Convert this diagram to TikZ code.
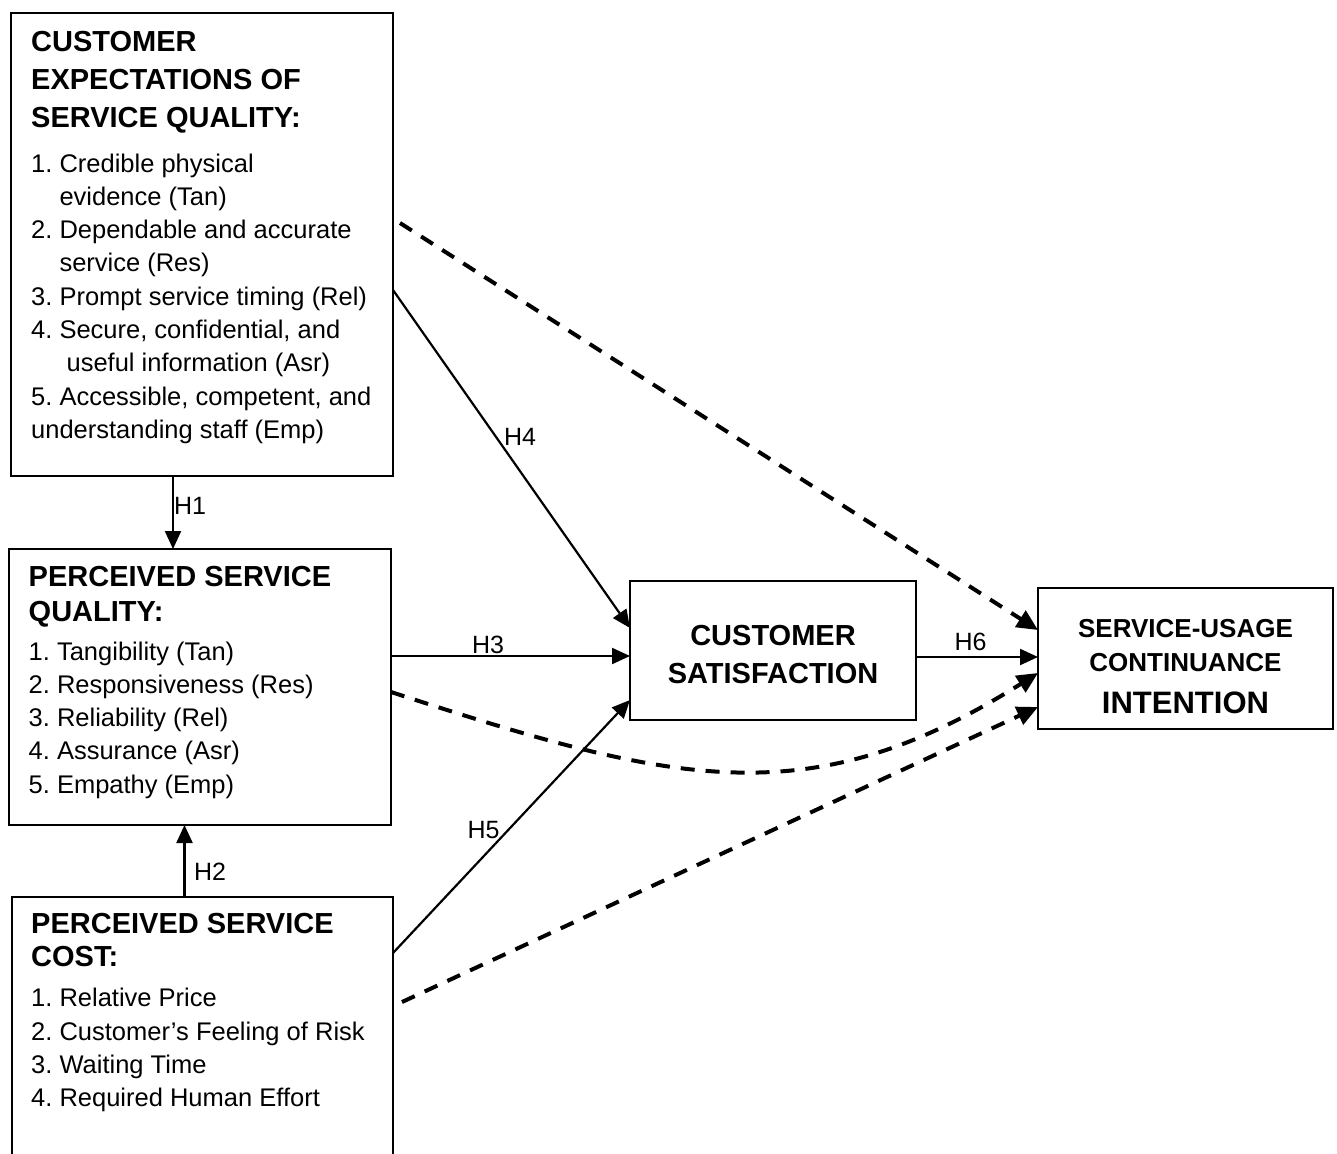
\documentclass[tikz,border=0pt]{standalone}
\usepackage{fontspec}
\setmainfont{Liberation Sans}
\usetikzlibrary{arrows.meta}
\frenchspacing

\tikzset{
  box/.style={draw, line width=2.2pt, outer sep=0pt, inner sep=0pt, anchor=north west},
  title/.style={font=\fontsize{29}{35}\selectfont\bfseries, inner sep=0pt, anchor=base west},
  item/.style={font=\fontsize{25.5}{33}\selectfont, inner sep=0pt, anchor=base west},
  hyp/.style={font=\fontsize{25}{30}\selectfont, inner sep=0pt},
  link/.style={line width=2.2pt, -{Triangle[length=18pt,width=16pt]}},
  dlink/.style={line width=4pt, dash pattern=on 14pt off 11pt, -{Triangle[length=21pt,width=19pt]}},
}

\begin{document}
\begin{tikzpicture}[x=1pt, y=-1pt]
\useasboundingbox (0,0) rectangle (1337,1153);
\fill[white] (0,0) rectangle (1337,1153);

% Boxes
\node[box, minimum width=382pt, minimum height=463pt] (expect) at (11,13) {};
\node[box, minimum width=382pt, minimum height=276pt] (quality) at (9,549) {};
\node[box, minimum width=381pt, minimum height=300pt] (cost) at (12,897) {};
\node[box, minimum width=286pt, minimum height=139pt] (satis) at (630,581) {};
\node[box, minimum width=295pt, minimum height=141pt] (intent) at (1038,588) {};

% Expectations box text
\foreach \txt [count=\i from 0] in {CUSTOMER, EXPECTATIONS OF, SERVICE QUALITY:}
  \node[title] (et\i) at (31, 52+38*\i) {\txt};
\foreach \txt [count=\i from 0] in {{1. Credible physical}, {\hspace*{28.3pt}evidence (Tan)},
    {2. Dependable and accurate}, {\hspace*{28.3pt}service (Res)}, {3. Prompt service timing (Rel)},
    {4. Secure, confidential, and}, {\hspace*{35.4pt}useful information (Asr)},
    {5. Accessible, competent, and}, {understanding staff (Emp)}}
  \node[item] (ei\i) at (31, 172+33.3*\i) {\txt};

% Perceived quality box text
\foreach \txt [count=\i from 0] in {PERCEIVED SERVICE, QUALITY:}
  \node[title] (qt\i) at (28.5, 586.7+35*\i) {\txt};
\foreach \txt [count=\i from 0] in {1. Tangibility (Tan), 2. Responsiveness (Res),
    3. Reliability (Rel), 4. Assurance (Asr), 5. Empathy (Emp)}
  \node[item] (qi\i) at (28.5, 660+33.3*\i) {\txt};

% Perceived cost box text
\foreach \txt [count=\i from 0] in {PERCEIVED SERVICE, COST:}
  \node[title] (ct\i) at (31, 933.3+33.4*\i) {\txt};
\foreach \txt [count=\i from 0] in {1. Relative Price, 2. Customer’s Feeling of Risk,
    3. Waiting Time, 4. Required Human Effort}
  \node[item] (ci\i) at (31, 1006.7+33.3*\i) {\txt};

% Outcome boxes text
\node[title, anchor=base] (st0) at (773,645) {CUSTOMER};
\node[title, anchor=base] (st1) at (773,683) {SATISFACTION};
\node[title, anchor=base, font=\fontsize{26}{30}\selectfont\bfseries] (it0) at (1185.5,637) {SERVICE-USAGE};
\node[title, anchor=base, font=\fontsize{26}{30}\selectfont\bfseries] (it1) at (1185.5,671.7) {CONTINUANCE};
\node[title, anchor=base, font=\fontsize{31}{35}\selectfont\bfseries] (it2) at (1185.5,713) {INTENTION};

% Hypothesis paths
\draw[link] ([xshift=-29pt]expect.south) -- ([xshift=-27pt]quality.north);
\draw[link] ([xshift=-18pt]cost.north) -- ([xshift=-15.5pt]quality.south);
\draw[link] ([yshift=-107pt]quality.north east) -- ([yshift=-75pt]satis.north west);
\draw[link] ([yshift=-277pt]expect.north east) -- ([yshift=-47pt]satis.north west);
\draw[link] ([yshift=-56pt]cost.north east) -- ([yshift=-119pt]satis.north west);
\draw[link] ([yshift=-76pt]satis.north east) -- ([yshift=-69pt]intent.north west);

% Hypothesis labels
\node[hyp] (h1) at (190,506) {H1};
\node[hyp] (h2) at (210,872) {H2};
\node[hyp] (h3) at (488,645) {H3};
\node[hyp] (h4) at (520,437) {H4};
\node[hyp] (h5) at (483.5,830) {H5};
\node[hyp] (h6) at (970.5,642) {H6};

% Direct (dashed) paths
\draw[dlink] ([xshift=7pt,yshift=-210pt]expect.north east) -- ([yshift=-42pt]intent.north west);
\draw[dlink] ([yshift=-143pt]quality.north east) .. controls +(280,91) and +(-230,145) .. ([yshift=-85pt]intent.north west);
\draw[dlink] ([xshift=9pt,yshift=-105pt]cost.north east) -- ([yshift=-119pt]intent.north west);
\end{tikzpicture}
\end{document}
